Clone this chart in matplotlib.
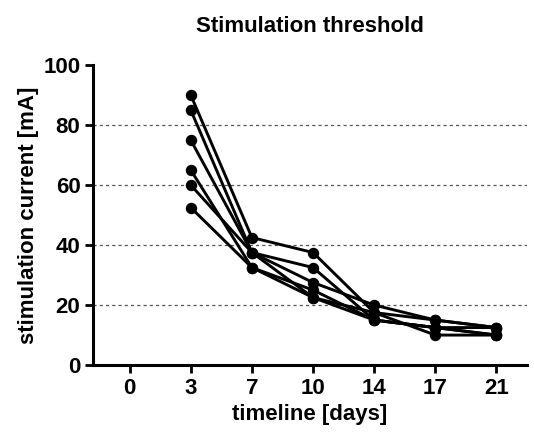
import matplotlib
matplotlib.use('Agg')
import matplotlib.pyplot as plt

plt.rcParams['font.family'] = ['Liberation Sans', 'DejaVu Sans']

# timeline categories (days), equally spaced on the axis
days = ['0', '3', '7', '10', '14', '17', '21']

# stimulation current [mA] per subject, from day 3 to day 21
s1 = [90, 42.5, 37.5, 17.5, 15, 12.5]
s2 = [85, 37.5, 32.5, 15, 12.5, 10]
s3 = [75, 37.5, 27.5, 20, 15, 12.5]
s4 = [65, 32.5, 25, 15, 12.5, 10]
s5 = [60, 37.5, 22.5, 17.5, 10, 10]
s6 = [52.5, 32.5, 22.5, 15, 12.5, 12.5]
subjects = [s1, s2, s3, s4, s5, s6]

fig = plt.figure(figsize=(5.34, 4.42), dpi=100)
ax = fig.add_axes([0.174, 0.174, 0.813, 0.679])

xs = list(range(1, len(days)))
for s in subjects:
    ax.plot(xs, s, color='black', lw=2.1, marker='o', ms=7.2, zorder=3)

for y in [20, 40, 60, 80]:
    ax.axhline(y, color='#555555', lw=0.9, ls=(0, (2.5, 2.5)), zorder=1)

ax.set_xlim(-0.6, 6.5)
ax.set_ylim(0, 100)
ax.set_xticks(range(len(days)))
ax.set_xticklabels(days, fontsize=16, fontweight='bold')
ax.set_yticks([0, 20, 40, 60, 80, 100])
ax.set_yticklabels([0, 20, 40, 60, 80, 100], fontsize=16, fontweight='bold')
ax.tick_params(axis='both', width=2, length=6, direction='out', pad=3)

for side in ['top', 'right']:
    ax.spines[side].set_visible(False)
for side in ['left', 'bottom']:
    ax.spines[side].set_linewidth(2.2)

ax.set_xlabel('timeline [days]', fontsize=16, fontweight='bold', labelpad=4)
ax.set_ylabel('stimulation current [mA]', fontsize=16, fontweight='bold', labelpad=3)
ax.set_title('Stimulation threshold', fontsize=16, fontweight='bold', pad=24)

fig.savefig('out.png', dpi=100)
